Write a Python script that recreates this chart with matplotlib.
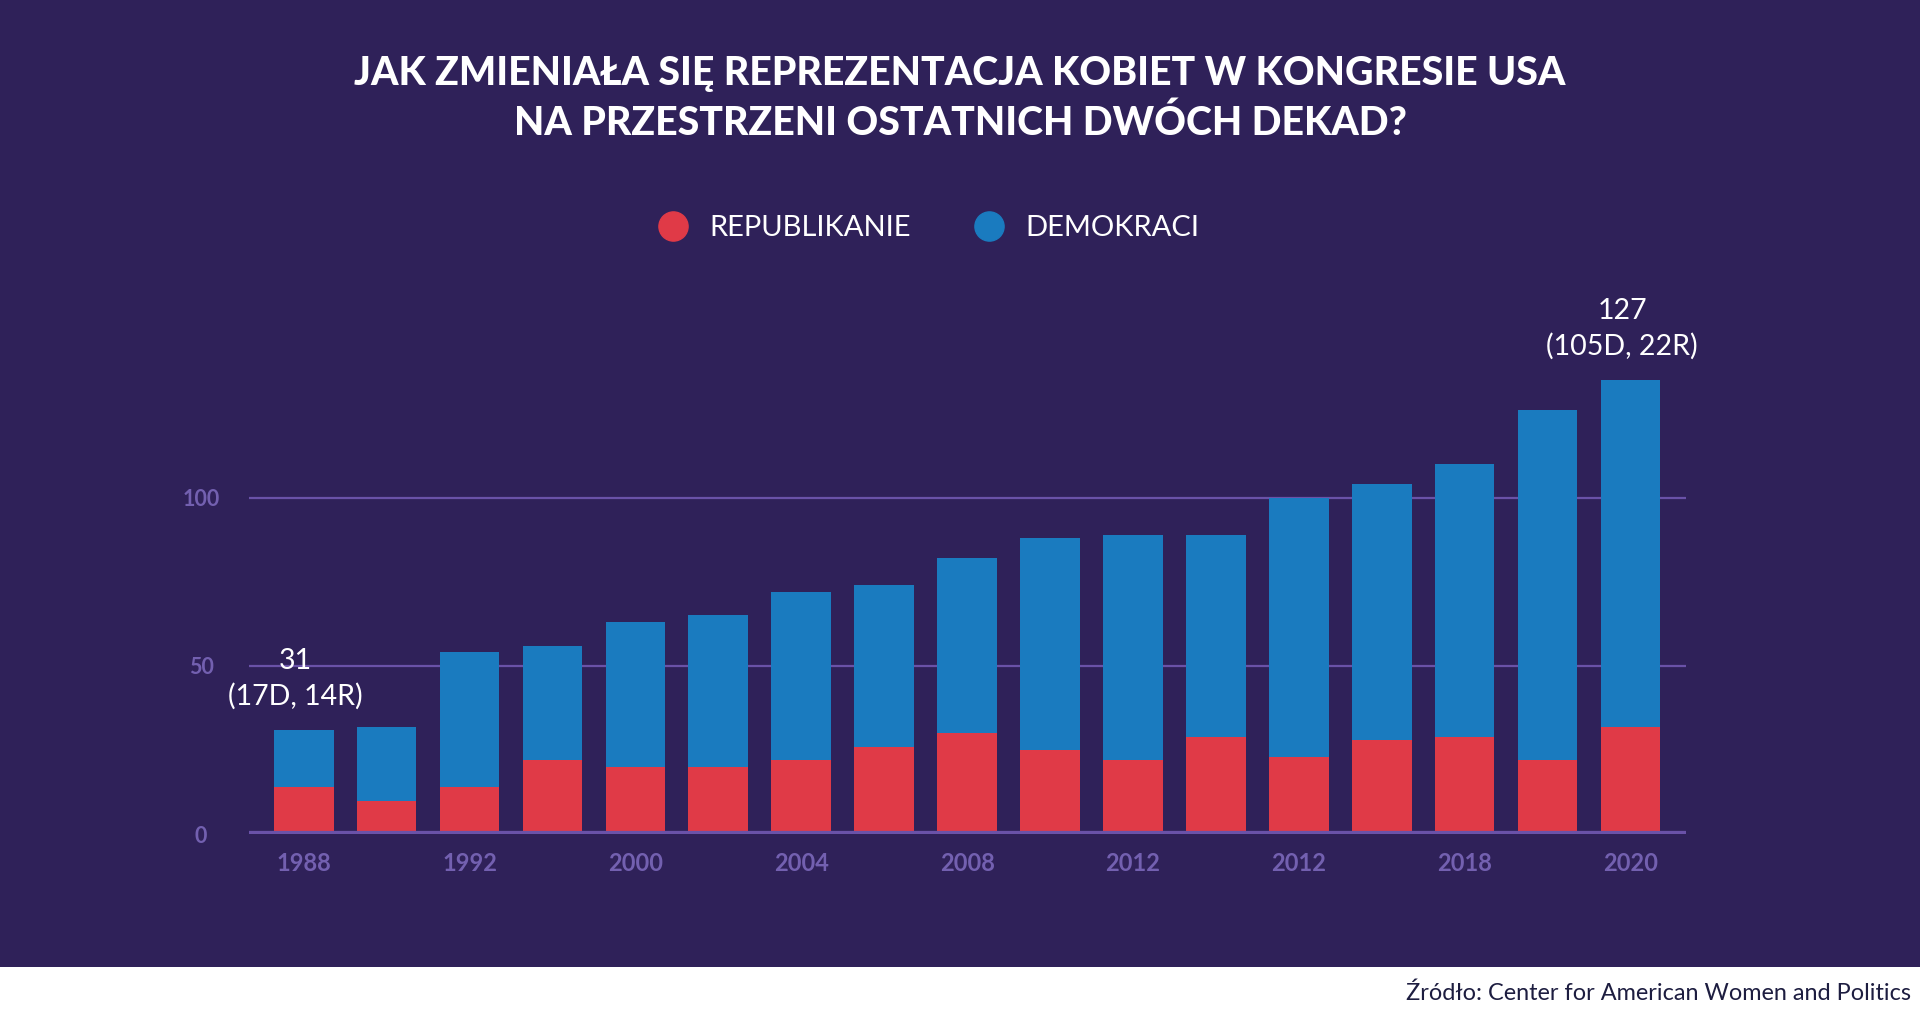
import matplotlib.pyplot as plt
from matplotlib.lines import Line2D
from matplotlib.patches import Rectangle

# Data
tick_labels = ['1988', '1992', '2000', '2004', '2008', '2012', '2012', '2018', '2020']
tick_bars = [0, 2, 4, 6, 8, 10, 12, 14, 16]
republicans = [14, 10, 14, 22, 20, 20, 22, 26, 30, 25, 22, 29, 23, 28, 29, 22, 32]
democrats = [17, 22, 40, 34, 43, 45, 50, 48, 52, 63, 67, 60, 77, 76, 81, 104, 103]
first_note = ['31', '(17D, 14R)']
last_note = ['127', '(105D, 22R)']

bg = '#2f2159'
red = '#e03a47'
blue = '#1a7bbf'
grid_col = '#6a52a8'
tick_col = '#7360b0'

plt.rcParams['font.family'] = ['Lato', 'DejaVu Sans']

fig = plt.figure(figsize=(19.2, 10.18), dpi=100, facecolor=bg)
fig.patches.append(Rectangle((0, 0), 1, 51 / 1018, transform=fig.transFigure,
                             facecolor='white', edgecolor='none', zorder=0))

ax = fig.add_axes([249 / 1920, 0.1805, (1686 - 249) / 1920, 0.463])
ax.set_facecolor('none')

x = list(range(len(republicans)))
totals = [r + d for r, d in zip(republicans, democrats)]
ax.bar(x, republicans, width=0.72, color=red, zorder=2)
ax.bar(x, democrats, bottom=republicans, width=0.72, color=blue, zorder=2)

for v in [50, 100]:
    ax.axhline(v, color=grid_col, lw=1.6, zorder=1)
ax.axhline(0, color=grid_col, lw=4.5, zorder=3)

ax.set_xlim(-0.66, 16.67)
ax.set_ylim(0, 140)
for s in ax.spines.values():
    s.set_visible(False)

ax.set_xticks(tick_bars)
ax.set_xticklabels(tick_labels)
ax.set_yticks([0, 50, 100])
ax.set_yticklabels(['0', '50', '100'])
ax.tick_params(axis='x', length=0, pad=13, labelsize=17, labelcolor=tick_col)
ax.tick_params(axis='y', length=0, pad=34.5, labelsize=15.5, labelcolor=tick_col)
for lab in ax.get_yticklabels():
    lab.set_ha('center')
for lab in ax.get_xticklabels() + ax.get_yticklabels():
    lab.set_fontweight('bold')

# annotations above first and last bars
for i, note in [(0, first_note), (len(x) - 1, last_note)]:
    ax.text(x[i] - 0.1, totals[i] + 20.5, note[0], ha='center', va='center',
            color='white', fontsize=20.5, clip_on=False)
    ax.text(x[i] - 0.1, totals[i] + 10.0, note[1], ha='center', va='center',
            color='white', fontsize=20.5, clip_on=False)

fig.text(0.5, 1 - 74 / 1018, 'JAK ZMIENIAŁA SIĘ REPREZENTACJA KOBIET W KONGRESIE USA',
         ha='center', va='center', color='white', fontsize=28.3, fontweight='black')
fig.text(0.5, 1 - 123 / 1018, 'NA PRZESTRZENI OSTATNICH DWÓCH DEKAD?',
         ha='center', va='center', color='white', fontsize=28.3, fontweight='black')

handles = [Line2D([], [], marker='o', ls='', ms=21, color=red),
           Line2D([], [], marker='o', ls='', ms=21, color=blue)]
fig.legend(handles, ['REPUBLIKANIE', 'DEMOKRACI'], loc='center',
           bbox_to_anchor=(929 / 1920, 1 - 228 / 1018), ncol=2, frameon=False,
           fontsize=21, labelcolor='white', handlelength=1.0, handletextpad=0.74,
           columnspacing=2.19)

fig.text(1911 / 1920, 1 - 993 / 1018, 'Źródło: Center for American Women and Politics',
         ha='right', va='center', color='#1d1d40', fontsize=16.9)

fig.savefig('out.png', dpi=100, facecolor=bg)
